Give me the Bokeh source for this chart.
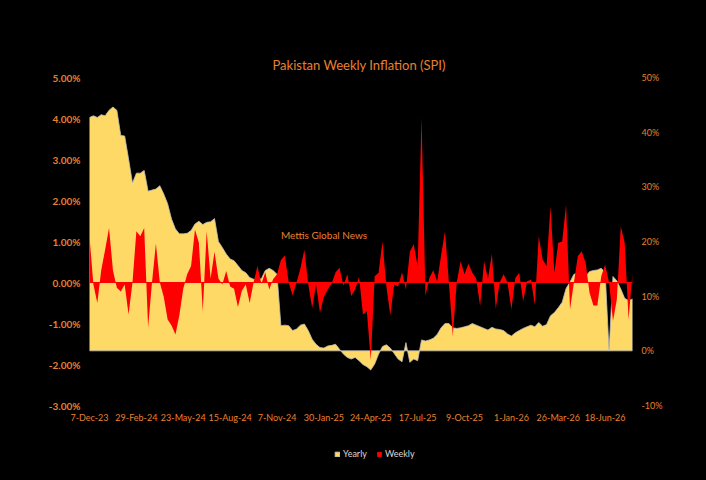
import pandas as pd
from bokeh.plotting import figure
from bokeh.layouts import column
from bokeh.models import (Range1d, LinearAxis, FixedTicker, Legend, LegendItem,
                          Label, Span, ColumnDataSource, GlobalInlineStyleSheet)
from bokeh.embed import file_html
from bokeh.resources import INLINE

# ---------------- data ----------------
start_date = "2023-12-07"

tick_labels = ["7-Dec-23", "29-Feb-24", "23-May-24", "15-Aug-24", "7-Nov-24",
               "30-Jan-25", "24-Apr-25", "17-Jul-25", "9-Oct-25", "1-Jan-26",
               "26-Mar-26", "18-Jun-26"]

left_ticks = [-3, -2, -1, 0, 1, 2, 3, 4, 5]
right_ticks = [-10, 0, 10, 20, 30, 40, 50]

# weekly change, % (left axis)
weekly = [
    1.12, -0.05, -0.50, 0.30, 0.80, 1.33, 0.30, -0.13, -0.22, -0.05,
    -0.78, 0.00, 1.25, 1.13, 1.33, -1.10, 0.00, 0.95, 0.00, -0.35,
    -0.90, -1.05, -1.27, -0.80, -0.15, 0.20, 0.40, 1.29, 0.97, -0.70,
    1.25, 0.10, 0.75, 0.10, -0.05, 0.28, -0.10, -0.15, -0.60, -0.20,
    -0.05, -0.50, 0.00, 0.40, -0.03, 0.25, -0.17, 0.08, 0.20, 0.55,
    0.66, 0.00, -0.32, 0.00, 0.35, 0.80, -0.05, -0.62, -0.05, -0.74,
    -0.35, -0.17, -0.02, 0.25, 0.36, -0.08, 0.20, -0.33, -0.17, 0.14,
    -0.78, -0.70, -1.90, 0.15, 0.24, 1.00, -0.10, -0.80, -0.05, -0.10,
    0.25, -0.17, 0.75, 0.93, 0.40, 4.03, -0.33, 0.11, 0.30, 0.03,
    0.66, 1.25, 0.00, -1.31, 0.00, 0.52, 0.20, 0.46, 0.24, 0.09,
    -0.58, 0.52, 0.09, 0.70, -0.64, 0.00, 0.20, 0.00, -0.66, 0.11,
    0.24, -0.46, 0.03, 0.07, -0.55, 1.13, 0.56, 0.40, 1.86, 0.24,
    0.97, 1.00, 1.90, -0.66, 0.00, 0.64, 0.76, 0.48, -0.25, -0.56,
    -0.56, 0.15, 0.44, 0.00, -0.94, -0.41, 1.37, 0.97, -0.90, 0.24,
]

# year-on-year change, % (right axis)
yearly = [
    42.7, 43.0, 42.7, 43.2, 43.0, 44.0, 44.6, 44.0, 39.4, 39.3,
    35.1, 30.7, 32.5, 32.5, 33.0, 29.2, 29.4, 29.6, 30.2, 28.7,
    26.9, 24.1, 22.3, 21.4, 21.4, 21.5, 22.0, 23.2, 23.7, 23.1,
    23.5, 23.6, 24.2, 20.0, 18.9, 17.7, 16.8, 16.5, 15.6, 14.7,
    14.3, 13.4, 13.1, 13.1, 13.2, 14.7, 15.1, 14.7, 14.0, 4.6,
    4.7, 4.6, 3.7, 4.0, 4.7, 4.9, 3.7, 2.1, 1.2, 0.6,
    0.5, 0.9, 1.0, 1.2, 0.3, -0.6, -1.2, -1.5, -1.2, -1.8,
    -2.5, -2.9, -3.5, -2.4, -0.6, 0.8, 1.1, 0.5, -0.5, -1.5,
    -2.0, 1.5, -2.1, -1.5, -1.8, 2.0, 1.8, 2.0, 2.3, 3.0,
    4.2, 5.0, 5.0, 4.2, 4.1, 4.2, 4.4, 4.6, 5.0, 4.7,
    4.4, 4.1, 3.8, 4.3, 4.0, 3.9, 3.7, 3.1, 2.7, 3.3,
    3.7, 4.1, 4.4, 4.7, 4.4, 5.2, 4.5, 4.8, 6.4, 7.0,
    7.9, 8.9, 11.4, 12.6, 14.0, 14.2, 14.0, 13.6, 14.5, 14.7,
    14.8, 15.1, 14.3, 0.0, 13.6, 12.8, 11.3, 9.6, 9.2, 9.5,
]

# ---------------- styling ----------------
ORANGE = "#E9812F"
YELLOW = "#FFD966"
RED = "#FF0000"
OUTLINE = "#bfbfbf"
FONT = "Lato"

dates = pd.date_range(start_date, periods=len(weekly), freq="7D")
x_ms = [d.value / 1e6 for d in dates]

src = ColumnDataSource(dict(x=x_ms, weekly=weekly, yearly=yearly))

p = figure(width=690, height=439, x_axis_type="datetime",
           x_range=Range1d(x_ms[0], x_ms[-1]), y_range=Range1d(-3, 5),
           output_backend="svg", toolbar_location=None,
           background_fill_color="black", border_fill_color="black",
           outline_line_color=None,
           min_border_left=89, min_border_right=58,
           min_border_top=77, min_border_bottom=34)
p.extra_y_ranges = {"yearly": Range1d(-10, 50)}
p.grid.visible = False

# title
p.title.text = "Pakistan Weekly Inflation (SPI)"
p.title.align = "left"
p.title.offset = 183
p.title.text_color = ORANGE
p.title.text_font = FONT
p.title.text_font_size = "13px"
p.title.text_font_style = "normal"

# yearly area (right axis), outlined polygon down to 0
px = [x_ms[0]] + x_ms + [x_ms[-1]]
py = [0] + yearly + [0]
p.patch(px, py, fill_color=YELLOW, line_color=OUTLINE,
        line_width=0.8, y_range_name="yearly")

# weekly area (left axis)
p.varea(x="x", y1=0, y2="weekly", source=src, fill_color=RED)
p.add_layout(Span(location=0, dimension="width", line_color=RED, line_width=1))

# axes
xa = p.xaxis[0]
tick_ms = [pd.to_datetime(s, format="%d-%b-%y").value / 1e6 for s in tick_labels]
xa.ticker = FixedTicker(ticks=tick_ms)
xa.major_label_overrides = {t: s for t, s in zip(tick_ms, tick_labels)}

ya = p.yaxis[0]
ya.ticker = FixedTicker(ticks=left_ticks)
ya.major_label_overrides = {v: f"{v:.2f}%" for v in left_ticks}

yr = LinearAxis(y_range_name="yearly")
yr.ticker = FixedTicker(ticks=right_ticks)
yr.major_label_overrides = {v: f"{v}%" for v in right_ticks}
p.add_layout(yr, "right")

for ax in (xa, ya, yr):
    ax.axis_line_color = None
    ax.major_tick_line_color = None
    ax.minor_tick_line_color = None
    ax.major_tick_out = 0
    ax.major_tick_in = 0
    ax.minor_tick_out = 0
    ax.major_label_text_color = ORANGE
    ax.major_label_text_font = FONT
    ax.major_label_standoff = 9
ya.major_label_text_font_size = "10px"
ya.major_label_text_font_style = "bold"
yr.major_label_text_font_size = "9px"
xa.major_label_text_font_size = "9px"
xa.major_label_standoff = 6

# watermark
p.add_layout(Label(x=x_ms[49], y=1.17, text="Mettis Global News",
                   text_color=ORANGE, text_font=FONT, text_font_size="10px",
                   text_baseline="middle", text_align="left"))

# legend strip under the chart (its frame is aligned with the chart's frame)
lg = figure(width=690, height=25, x_range=Range1d(0, 1), y_range=Range1d(0, 1),
            output_backend="svg", toolbar_location=None,
            background_fill_color="black", border_fill_color="black",
            outline_line_color=None, min_border=0,
            x_axis_location=None, y_axis_location=None)
lg.grid.visible = False
ly = lg.patch([-5, -4, -5], [-5, -5, -4], fill_color=YELLOW,
              line_color=OUTLINE, line_width=0.8)
lw = lg.varea(x=[-5, -4], y1=[-5, -5], y2=[-4, -4], fill_color=RED)
legend = Legend(items=[LegendItem(label="Yearly", renderers=[ly]),
                       LegendItem(label="Weekly", renderers=[lw])],
                orientation="horizontal", location=(245, 5),
                label_text_color="#d9d9d9", label_text_font=FONT,
                label_text_font_size="9px", glyph_width=6, glyph_height=6,
                label_standoff=3, spacing=9, padding=0, margin=0,
                background_fill_alpha=0, border_line_color=None)
lg.add_layout(legend)

page = column(p, lg, spacing=0,
              stylesheets=[GlobalInlineStyleSheet(css="html, body { background-color: #000000; }")])

open("out.html", "w").write(file_html(page, INLINE))
